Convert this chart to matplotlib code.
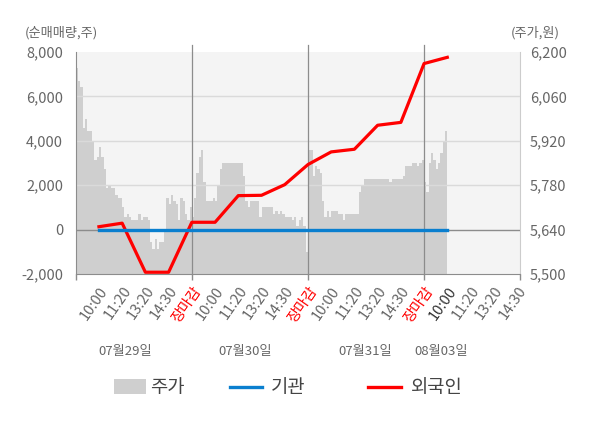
import numpy as np
import matplotlib.pyplot as plt
import matplotlib.transforms as mtransforms
from matplotlib.patches import Rectangle
from matplotlib.lines import Line2D

plt.rcParams['font.family'] = ['Noto Sans CJK KR', 'DejaVu Sans']

# --- 데이터 ---
days = ['07월29일', '07월30일', '07월31일', '08월03일']
day_label_pos = [2.12, 7.29, 12.45, 15.72]
time_labels = ['10:00', '11:20', '13:20', '14:30', '장마감'] * 3 + ['10:00', '11:20', '13:20', '14:30']
time_pos = list(range(1, 20))

# 외국인 / 기관 순매매량 (주)
flow_x = list(range(1, 17))
foreign = [130, 290, -1920, -1920, 330, 330, 1530, 1545, 2025, 2930,
           3500, 3620, 4700, 4830, 7480, 7760]
institution = [0] * 16

# 주가 (원), 하루 = 5칸, 0.1칸 간격
price_d1 = [6150, 6110, 6090, 5960, 5990, 5950, 5950, 5920, 5860, 5870,
            5900, 5870, 5830, 5770, 5780, 5770, 5770, 5750, 5740, 5740,
            5710, 5680, 5690, 5680, 5670, 5670, 5670, 5690, 5670, 5680,
            5680, 5670, 5600, 5580, 5610, 5580, 5600, 5600, 5640, 5740,
            5720, 5750, 5730, 5720, 5670, 5740, 5730, 5690, 5670, 5710]
price_d2 = [5680, 5740, 5820, 5870, 5890, 5790, 5730, 5730, 5730, 5740,
            5730, 5780, 5830, 5850, 5850, 5850, 5850, 5850, 5850, 5850,
            5850, 5850, 5810, 5730, 5710, 5730, 5730, 5730, 5730, 5680,
            5710, 5710, 5710, 5710, 5710, 5690, 5700, 5690, 5700, 5690,
            5680, 5680, 5680, 5670, 5680, 5650, 5670, 5680, 5650, 5570]
price_d3 = [5890, 5890, 5810, 5840, 5830, 5820, 5730, 5680, 5700, 5680,
            5700, 5700, 5700, 5690, 5690, 5670, 5690, 5690, 5690, 5690,
            5690, 5690, 5760, 5780, 5800, 5800, 5800, 5800, 5800, 5800,
            5800, 5800, 5800, 5800, 5800, 5790, 5800, 5800, 5800, 5800,
            5800, 5810, 5840, 5840, 5840, 5850, 5850, 5840, 5850, 5860]
price_d4 = [5790, 5760, 5850, 5880, 5860, 5830, 5850, 5880, 5920, 5950]

prices = price_d1 + price_d2 + price_d3 + price_d4
price_x = np.arange(len(prices) + 1) * 0.1

# --- 그림 ---
fig = plt.figure(figsize=(6, 4.28), dpi=100)
ax = fig.add_axes([75.7 / 600, 1 - 274 / 428, (520 - 75.7) / 600, 222 / 428])
ax2 = ax.twinx()
ax.set_zorder(2)
ax2.set_zorder(1)
ax.patch.set_visible(False)
ax2.patch.set_visible(True)
ax2.patch.set_facecolor('#f4f4f4')

xmax = 19.13
ax.set_xlim(0, xmax)
ax.set_ylim(-2000, 8000)
ax2.set_ylim(5500, 6200)

# 주가 (회색 영역)
ax2.fill_between(price_x, prices + [prices[-1]], 5500, step='post',
                 color='#cfcfcf', lw=0)

# 그리드 / 날짜 구분선
for yv in [2000, 4000, 6000]:
    ax.axhline(yv, color='#dadada', lw=1, zorder=1)
ax.axhline(0, color='#8c8c8c', lw=1, zorder=1)
for xv in [5, 10, 15]:
    ax.axvline(xv, ymin=0, ymax=1.032, color='#8c8c8c', lw=0.9, clip_on=False, zorder=1)

# 외국인 / 기관
ax.plot(flow_x, foreign, color='#ff0000', lw=2.3, zorder=3)
ax.plot(flow_x, institution, color='#0a7fcf', lw=2.4, zorder=4)

# 축
ax.set_yticks([-2000, 0, 2000, 4000, 6000, 8000])
ax.set_yticklabels([f'{v:,}' for v in [-2000, 0, 2000, 4000, 6000, 8000]])
ax2.set_yticks([5500, 5640, 5780, 5920, 6060, 6200])
ax2.set_yticklabels([f'{v:,}' for v in [5500, 5640, 5780, 5920, 6060, 6200]])
ax.tick_params(axis='y', length=0, pad=9, labelsize=10.5, labelcolor='#666666')
ax2.tick_params(axis='y', length=0, pad=7, labelsize=10.5, labelcolor='#666666')

ax.set_xticks([0, 5, 10, 15, xmax])
ax.set_xticklabels([])
ax.tick_params(axis='x', length=4, width=1, color='#8c8c8c')

for a in (ax, ax2):
    a.spines['top'].set_visible(False)
ax.spines['left'].set_color('#8c8c8c')
ax.spines['bottom'].set_color('#8c8c8c')
ax.spines['right'].set_visible(False)
ax2.spines['left'].set_visible(False)
ax2.spines['bottom'].set_visible(False)
ax2.spines['right'].set_color('#cccccc')

# 시간 라벨
lab_tr = mtransforms.offset_copy(ax.get_xaxis_transform(), fig=fig, x=6, y=-14, units='dots')
for i, (xp, lab) in enumerate(zip(time_pos, time_labels)):
    if lab == '장마감':
        col = '#ff0000'
    elif i == 15:
        col = '#333333'
    else:
        col = '#666666'
    ax.text(xp, 0, lab, transform=lab_tr, rotation=55, rotation_mode='anchor',
            ha='right', va='center', fontsize=10.5, color=col)

# 날짜 라벨
day_tr = mtransforms.offset_copy(ax.get_xaxis_transform(), fig=fig, x=0, y=-78, units='dots')
for xp, d in zip(day_label_pos, days):
    ax.text(xp, 0, d, transform=day_tr, ha='center', va='center',
            fontsize=9.5, color='#666666')

# 축 제목
fig.text(61 / 600, 1 - 33 / 428, '(순매매량,주)', ha='center', va='center',
         fontsize=9.5, color='#666666')
fig.text(535 / 600, 1 - 33 / 428, '(주가,원)', ha='center', va='center',
         fontsize=9.5, color='#666666')

# 범례
ly = 1 - 387 / 428
fig.add_artist(Rectangle((114 / 600, 1 - 394 / 428), 32 / 600, 15 / 428,
                         transform=fig.transFigure, color='#cfcfcf', lw=0))
fig.text(150 / 600, ly, '주가', ha='left', va='center', fontsize=13.5, color='#444444')
fig.add_artist(Line2D([230 / 600, 262 / 600], [ly, ly], transform=fig.transFigure,
                      color='#0a7fcf', lw=2.4))
fig.text(271 / 600, ly, '기관', ha='left', va='center', fontsize=13.5, color='#444444')
fig.add_artist(Line2D([368 / 600, 401 / 600], [ly, ly], transform=fig.transFigure,
                      color='#ff0000', lw=2.4))
fig.text(411 / 600, ly, '외국인', ha='left', va='center', fontsize=13.5, color='#444444')

fig.savefig('out.png', dpi=100)
